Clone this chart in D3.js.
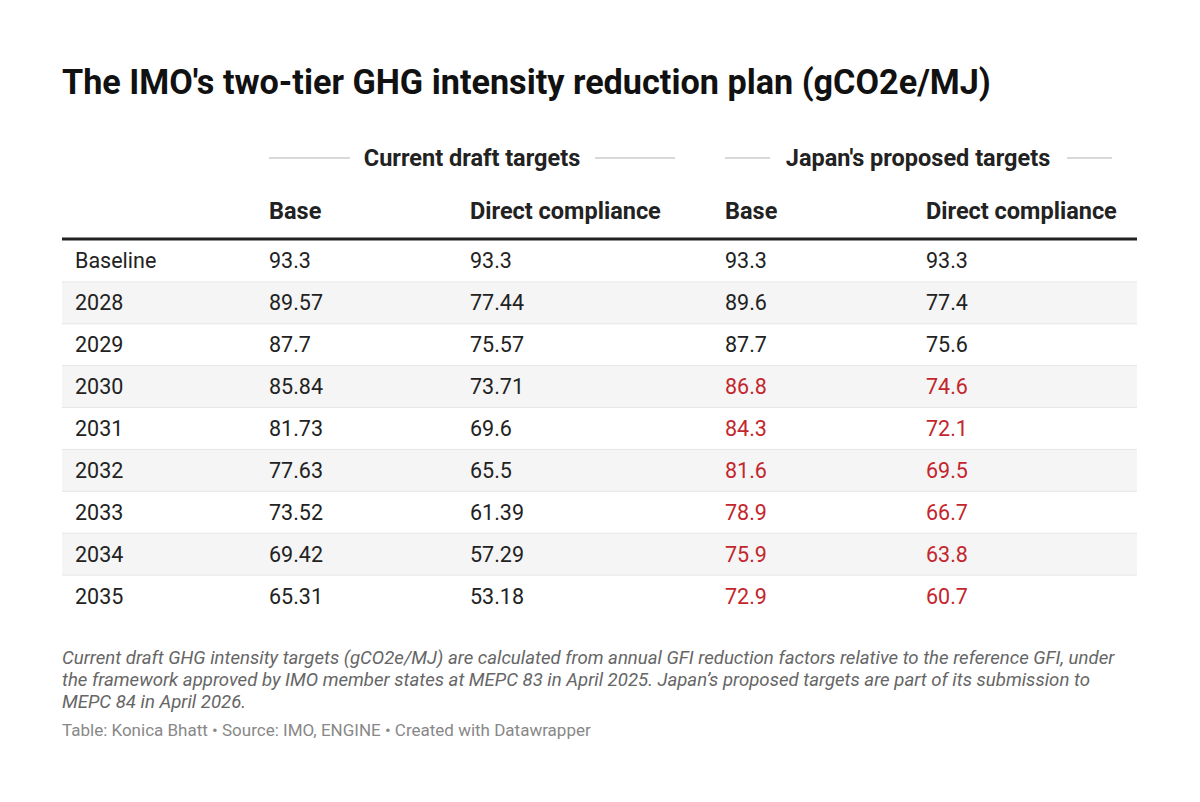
<!DOCTYPE html>
<html><head><meta charset="utf-8">
<script src="https://cdn.jsdelivr.net/npm/d3@7"></script>
<style>body{margin:0;background:#fff;font-family:Roboto,sans-serif}</style>
</head><body><svg id="c" width="1200" height="802"></svg>
<script>
const rowLabels = ["Baseline","2028","2029","2030","2031","2032","2033","2034","2035"];
const draftBase = ["93.3","89.57","87.7","85.84","81.73","77.63","73.52","69.42","65.31"];
const draftDirect = ["93.3","77.44","75.57","73.71","69.6","65.5","61.39","57.29","53.18"];
const japanBase = ["93.3","89.6","87.7","86.8","84.3","81.6","78.9","75.9","72.9"];
const japanDirect = ["93.3","77.4","75.6","74.6","72.1","69.5","66.7","63.8","60.7"];
const japanChanged = [false,false,false,true,true,true,true,true,true];
const colHeaders = ["","Base","Direct compliance","Base","Direct compliance"];

const svg = d3.select("#c");
const red = "#c3262c";
svg.append("text").attr("x",62).attr("y",94).attr("font-size",34.2).attr("font-weight",700)
  .attr("fill","#111").text("The IMO's two-tier GHG intensity reduction plan (gCO2e/MJ)");

const colX = [75,269,470,725,926];
const y = d3.scaleBand().domain(d3.range(rowLabels.length)).range([240,617]);

// group headers
const groups = [{t:"Current draft targets",cx:472,l:[269,350],r:[595,675]},
                {t:"Japan's proposed targets",cx:918,l:[725,770],r:[1067,1112]}];
groups.forEach(g=>{
  svg.append("text").attr("x",g.cx).attr("y",166).attr("text-anchor","middle")
    .attr("font-size",23.5).attr("font-weight",700).attr("fill","#222").text(g.t);
  [g.l,g.r].forEach(s=>svg.append("line").attr("x1",s[0]).attr("x2",s[1]).attr("y1",158).attr("y2",158)
    .attr("stroke","#ccc").attr("stroke-width",1.5));
});
colHeaders.forEach((h,i)=>svg.append("text").attr("x",colX[i]).attr("y",219)
  .attr("font-size",23.5).attr("font-weight",700).attr("fill","#222").text(h));

rowLabels.forEach((r,i)=>{
  if(i%2===1) svg.append("rect").attr("x",62).attr("width",1075).attr("y",y(i)).attr("height",y.bandwidth()).attr("fill","#f5f5f5");
  if(i>0) svg.append("line").attr("x1",62).attr("x2",1137).attr("y1",y(i)).attr("y2",y(i)).attr("stroke","#e6e6e6");
  const cells=[r,draftBase[i],draftDirect[i],japanBase[i],japanDirect[i]];
  cells.forEach((c,j)=>svg.append("text").attr("x",colX[j]).attr("y",y(i)+y.bandwidth()/2+7.5)
    .attr("font-size",21.5).attr("fill",j>=3&&japanChanged[i]?red:"#222").text(c));
});
svg.append("line").attr("x1",62).attr("x2",1137).attr("y1",239).attr("y2",239).attr("stroke","#222").attr("stroke-width",3);

const notes=["Current draft GHG intensity targets (gCO2e/MJ) are calculated from annual GFI reduction factors relative to the reference GFI, under",
"the framework approved by IMO member states at MEPC 83 in April 2025. Japan’s proposed targets are part of its submission to",
"MEPC 84 in April 2026."];
notes.forEach((n,i)=>svg.append("text").attr("x",62).attr("y",664+i*22).attr("font-size",18.6)
  .attr("font-style","italic").attr("fill","#666").text(n));
svg.append("text").attr("x",62).attr("y",736).attr("font-size",17).attr("fill","#888")
  .text("Table: Konica Bhatt • Source: IMO, ENGINE • Created with Datawrapper");
</script></body></html>
